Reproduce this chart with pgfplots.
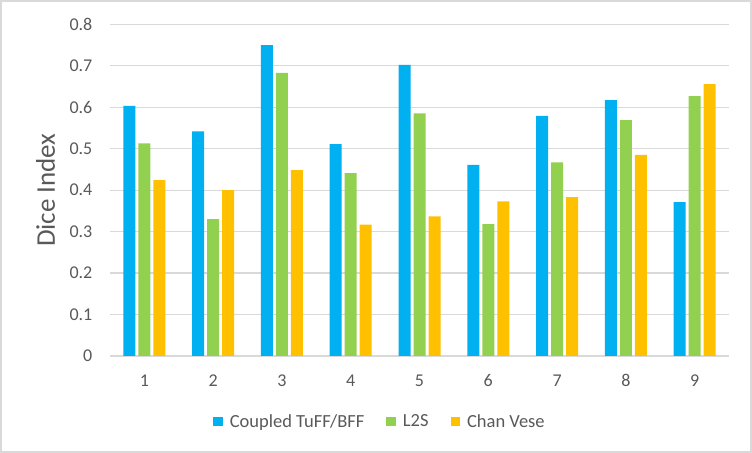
\documentclass[border=0pt]{standalone}
\usepackage{fontspec}
\setmainfont{Carlito}
\usepackage{pgfplots}
\pgfplotsset{compat=1.18}
\definecolor{cblue}{HTML}{00B0F0}
\definecolor{cgreen}{HTML}{92D050}
\definecolor{corange}{HTML}{FFC000}
\definecolor{txt}{HTML}{595959}
\definecolor{gridc}{HTML}{D9D9D9}
\begin{document}
\begin{tikzpicture}[x=1bp,y=1bp]
\path[use as bounding box] (0,0) rectangle (752,453);
\draw[gridc, line width=2bp] (1,1) rectangle (751,452);
\begin{axis}[
  at={(110bp,97bp)}, anchor=south west,
  scale only axis, width=619bp, height=331.7bp,
  ybar=3bp, bar width=12bp,
  xmin=0.5, xmax=9.5, ymin=0, ymax=0.8,
  xtick={1,2,3,4,5,6,7,8,9},
  ytick={0,0.1,0.2,0.3,0.4,0.5,0.6,0.7,0.8},
  yticklabels={0,0.1,0.2,0.3,0.4,0.5,0.6,0.7,0.8},
  axis line style={draw=none},
  major tick length=0pt,
  ymajorgrids, grid style={gridc, line width=1.2bp},
  /pgf/number format/assume math mode=true,
  tick label style={font=\fontsize{18bp}{21bp}\selectfont, text=txt, inner sep=0pt},
  yticklabel style={anchor=east, xshift=-17.5bp},
  xticklabel style={anchor=north, yshift=-18.5bp},
  ylabel={Dice Index},
  ylabel style={at={(axis description cs:-0.0889,0.5)}, anchor=base, inner sep=0pt,
    font=\fontsize{27bp}{30bp}\selectfont, text=txt},
  legend image code/.code={\fill[#1] (0bp,-4.75bp) rectangle (9.5bp,4.75bp);},
  legend style={at={(axis description cs:0.4362,0)}, yshift=-65.7bp, anchor=center,
    draw=none, fill=none, legend columns=-1,
    font=\fontsize{18.5bp}{21bp}\selectfont, text=txt,
    /tikz/every odd column/.append style={column sep=5bp},
    /tikz/every even column/.append style={column sep=20bp}},
  legend cell align=left,
]
\addplot[fill=cblue, draw=none] coordinates {(1,0.603) (2,0.542) (3,0.750) (4,0.511) (5,0.702) (6,0.461) (7,0.579) (8,0.617) (9,0.371)};
\addplot[fill=cgreen, draw=none] coordinates {(1,0.513) (2,0.330) (3,0.683) (4,0.441) (5,0.585) (6,0.318) (7,0.467) (8,0.569) (9,0.627)};
\addplot[fill=corange, draw=none] coordinates {(1,0.424) (2,0.400) (3,0.448) (4,0.317) (5,0.337) (6,0.373) (7,0.383) (8,0.485) (9,0.656)};
\legend{Coupled TuFF/BFF, L2S, Chan Vese}
\end{axis}
\end{tikzpicture}
\end{document}
